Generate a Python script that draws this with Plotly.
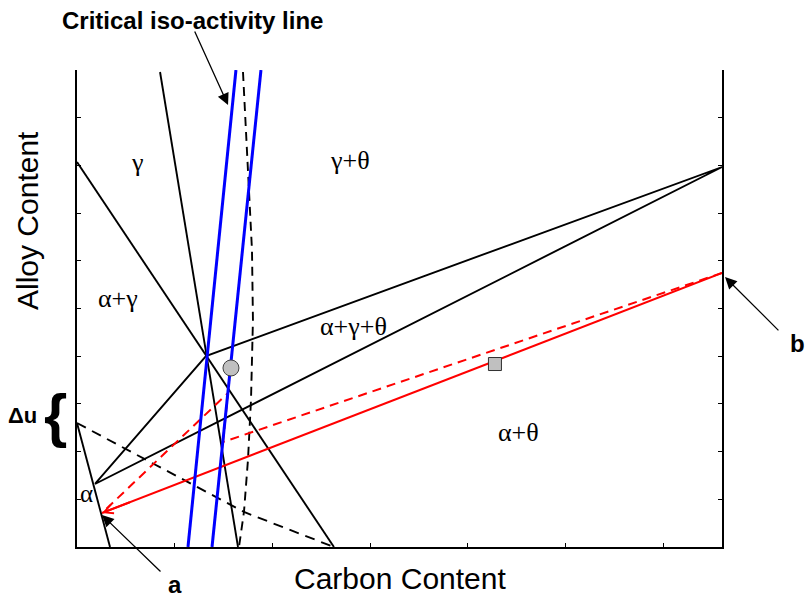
import plotly.graph_objects as go

# Schematic isothermal section: carbon content (x) vs alloy content (y), arbitrary units

# Three-phase tie triangle corners (alpha, gamma, theta)
tri_alpha = (0.184, 1.321)
tri_gamma = (1.320, 4.004)
tri_theta = (6.602, 7.966)

# Phase boundary lines (solid black)
gamma_boundary_x = [0.0, 2.630]
gamma_boundary_y = [8.071, 0.0]
gamma_theta_boundary_x = [0.850, 1.648]
gamma_theta_boundary_y = [9.958, 0.0]
alpha_boundary_x = [0.0, 0.338]
alpha_boundary_y = [2.600, 0.0]

# Metastable (para-equilibrium) boundaries, dashed black
para_tie_x = [0.0, 1.709, 2.630]
para_tie_y = [2.600, 0.734, 0.0]
para_curve_x = [1.699, 1.750, 1.791, 1.801, 1.781, 1.750, 1.709, 1.658]
para_curve_y = [9.958, 7.904, 6.226, 4.759, 3.082, 1.824, 0.734, 0.0]

# Iso-activity lines (blue)
iso_left_x = [1.136, 1.627]
iso_left_y = [0.0, 10.0]
iso_right_x = [1.382, 1.883]
iso_right_y = [0.0, 10.0]

# Tie line b -> a (solid red) and the alternative path (dashed red)
point_a = (0.256, 0.713)
point_b = (6.602, 5.744)
path_x = [6.602, 1.494, 1.546, 0.256]
path_y = [5.744, 2.201, 3.229, 0.713]

# Alloy compositions marked by symbols
circle_pt = (1.576, 3.753)
square_pt = (4.278, 3.836)

X_MAX, Y_MAX = 6.602, 10.0

fig = go.Figure()

def seg(xs, ys, color="black", width=1.9, dash="solid"):
    fig.add_trace(go.Scatter(x=xs, y=ys, mode="lines",
                             line=dict(color=color, width=width, dash=dash),
                             hoverinfo="skip", showlegend=False))

# solid black boundaries
seg(gamma_boundary_x, gamma_boundary_y)
seg(gamma_theta_boundary_x, gamma_theta_boundary_y)
seg(alpha_boundary_x, alpha_boundary_y)
seg([tri_alpha[0], tri_gamma[0], tri_theta[0], tri_alpha[0]],
    [tri_alpha[1], tri_gamma[1], tri_theta[1], tri_alpha[1]])

# dashed black boundaries
seg(para_tie_x, para_tie_y, width=1.9, dash="10px,7px")
seg(para_curve_x, para_curve_y, width=1.9, dash="9px,6px")

# red tie lines
seg(path_x, path_y, color="red", width=2, dash="9px,6px")
seg([point_b[0], point_a[0]], [point_b[1], point_a[1]], color="red", width=2)

# blue iso-activity lines
seg(iso_left_x, iso_left_y, color="#0000ff", width=3)
seg(iso_right_x, iso_right_y, color="#0000ff", width=3)

# markers
fig.add_trace(go.Scatter(x=[circle_pt[0]], y=[circle_pt[1]], mode="markers",
                         marker=dict(symbol="circle", size=16, color="#c0c0c0",
                                     line=dict(color="#404040", width=1)),
                         hoverinfo="skip", showlegend=False))
fig.add_trace(go.Scatter(x=[square_pt[0]], y=[square_pt[1]], mode="markers",
                         marker=dict(symbol="square", size=13, color="#c0c0c0",
                                     line=dict(color="#303030", width=1)),
                         hoverinfo="skip", showlegend=False))

serif = "Liberation Serif, Times New Roman, serif"
sans = "Liberation Sans, Arial, sans-serif"

def px(x):
    return x / X_MAX

def py(y):
    return y / Y_MAX

REF = dict(xref="x domain", yref="y domain")

def label(x, y, text, size=26, family=serif, bold=False, angle=0):
    # positions given in data units; domain refs keep labels outside the axes visible
    fig.add_annotation(x=px(x), y=py(y), **REF, xanchor="center", yanchor="middle",
                       text=f"<b>{text}</b>" if bold else text,
                       showarrow=False, textangle=angle,
                       font=dict(family=family, size=size, color="black"))

def arrow(tip, tail, color="black", head=2, width=1.3, size=1.8):
    fig.add_annotation(x=px(tip[0]), y=py(tip[1]), ax=px(tail[0]), ay=py(tail[1]),
                       **REF, axref="x domain", ayref="y domain", text="",
                       showarrow=True, arrowhead=head, arrowsize=size,
                       arrowwidth=width, arrowcolor=color)

# phase field labels
label(0.624, 8.07, "γ")
label(2.794, 8.11, "γ+θ")
label(0.42, 5.22, "α+γ")
label(2.835, 4.63, "α+γ+θ")
label(4.52, 2.41, "α+θ")
label(0.102, 1.13, "α", size=25)

# delta-u bracket
label(-0.553, 2.76, "Δu", size=22, family=sans, bold=True)
label(-0.215, 2.75, "{", size=60, family=sans, bold=True)

# point labels and arrows
label(1.0, -0.79, "a", size=24, family=sans, bold=True)
label(7.37, 4.256, "b", size=24, family=sans, bold=True)
label(1.187, 11.03, "Critical iso-activity line", size=24, family=sans, bold=True)

arrow((1.546, 9.266), (1.198, 10.84))
arrow((0.256, 0.671), (0.870, -0.545))
arrow((6.633, 5.66), (7.195, 4.51))
# arrowhead of the red tie line at point a
slope_ab = (point_b[1] - point_a[1]) / (point_b[0] - point_a[0])
arrow(point_a, (point_a[0] + 0.30, point_a[1] + 0.30 * slope_ab),
      color="red", head=5, width=2, size=0.9)

# axis titles
label(-0.512, 6.855, "Alloy Content", size=30, family=sans, angle=-90)
label(3.306, -0.65, "Carbon Content", size=30, family=sans)

fig.update_xaxes(range=[0, X_MAX], showgrid=False, zeroline=False, showline=True,
                 linecolor="black", linewidth=2, ticks="inside", ticklen=4,
                 tickcolor="black", dtick=1, tick0=0, showticklabels=False, mirror=False)
fig.update_yaxes(range=[0, Y_MAX], showgrid=False, zeroline=False, showline=True,
                 linecolor="black", linewidth=2, ticks="inside", ticklen=4,
                 tickcolor="black", dtick=1, tick0=0, showticklabels=False, mirror="ticks")

fig.update_layout(width=809, height=599, margin=dict(l=77, r=87, t=70, b=52),
                  plot_bgcolor="white", paper_bgcolor="white", showlegend=False)

fig.write_html("out.html")
